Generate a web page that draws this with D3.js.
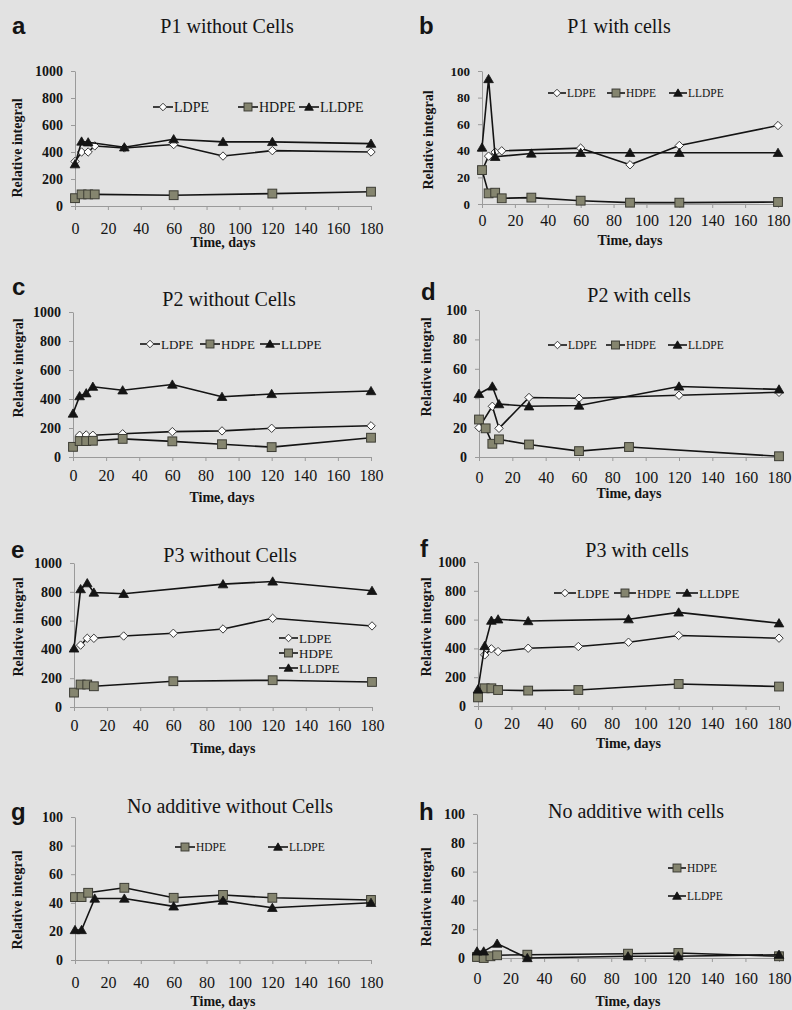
<!DOCTYPE html>
<html>
<head>
<meta charset="utf-8">
<script src="https://cdn.jsdelivr.net/npm/d3@7"></script>
<style>
  html, body { margin: 0; padding: 0; background: #e2e2e2; }
  svg { display: block; }
  svg text { font-family: "Liberation Serif", "Times New Roman", serif; }
  svg text.letter { font-family: "Liberation Sans", Arial, sans-serif; }
</style>
</head>
<body>
<svg id="fig" width="792" height="1010"></svg>
<script>
// ---- data -------------------------------------------------------------
// sampling days (x values) shared by every panel; null = not measured
const days = [0, 4, 8, 12, 30, 60, 90, 120, 180];
const xTickValues = [0, 20, 40, 60, 80, 100, 120, 140, 160, 180];
const yTicks1000 = [0, 200, 400, 600, 800, 1000];
const yTicks100 = [0, 20, 40, 60, 80, 100];

const panelLetters = ["a", "b", "c", "d", "e", "f", "g", "h"];
const panelTitles = [
  "P1 without Cells", "P1 with cells",
  "P2 without Cells", "P2 with cells",
  "P3 without Cells", "P3 with cells",
  "No additive without Cells", "No additive with cells"
];
const panelYMax = [1000, 100, 1000, 100, 1000, 1000, 100, 100];

// P1 without cells
const p1NoCellsLDPE  = [330, 400, 400, 445, 430, 455, 370, 410, 400];
const p1NoCellsHDPE  = [58, 86, 86, 86, null, 80, null, 92, 106];
const p1NoCellsLLDPE = [310, 478, 472, null, 435, 495, 475, 475, 462];
// P1 with cells
const p1CellsLDPE  = [25, 36, 39, 40, null, 42, 29.5, 44, 59];
const p1CellsHDPE  = [25.5, 8, 8.5, 4.3, 4.8, 2.5, 1, 1, 1.5];
const p1CellsLLDPE = [42.5, 94, 35.5, null, 38, 38.5, 38.5, 38.5, 38.5];
// P2 without cells
const p2NoCellsLDPE  = [null, 150, 152, 150, 160, 175, 180, 198, 215];
const p2NoCellsHDPE  = [70, 110, 110, 112, 125, 108, 88, 68, 133];
const p2NoCellsLLDPE = [300, 420, 440, 485, 460, 500, 415, 435, 455];
// P2 with cells
const p2CellsLDPE  = [20, null, 34.5, 19.5, 40.5, 40, null, 42, 44];
const p2CellsHDPE  = [25.5, 19.5, 9, 12, 8.5, 4, 6.8, null, 0.5];
const p2CellsLLDPE = [43, null, 48, 36, 34.5, 35, null, 48, 46];
// P3 without cells
const p3NoCellsLDPE  = [null, 430, 477, 477, 493, 512, 542, 616, 563];
const p3NoCellsHDPE  = [100, 156, 156, 144, null, 179, null, 186, 174];
const p3NoCellsLLDPE = [407, 819, 860, 795, 786, null, 853, 872, 807];
// P3 with cells
const p3CellsLDPE  = [null, 355, 397, 378, 401, 413, 443, 490, 471];
const p3CellsHDPE  = [60, 123, 123, 111, 107, 111, null, 153, 135];
const p3CellsLLDPE = [116, 417, 593, 602, 590, null, 603, 650, 575];
// no additive without cells
const noAddNoCellsHDPE  = [44, 44, 47, null, 50.5, 43.5, 45.5, 43.5, 42];
const noAddNoCellsLLDPE = [21, 21, null, 43, 43, 37.5, 41.5, 36.5, 40];
// no additive with cells
const noAddCellsHDPE  = [0.7, 0, 1.2, 1.9, 2.3, null, 3, 3.5, 1.2];
const noAddCellsLLDPE = [4.6, 4.6, null, 10, 0, null, 1.2, 1.2, 2.3];

const panelSeries = [
  [["LDPE", p1NoCellsLDPE], ["HDPE", p1NoCellsHDPE], ["LLDPE", p1NoCellsLLDPE]],
  [["LDPE", p1CellsLDPE], ["HDPE", p1CellsHDPE], ["LLDPE", p1CellsLLDPE]],
  [["LDPE", p2NoCellsLDPE], ["HDPE", p2NoCellsHDPE], ["LLDPE", p2NoCellsLLDPE]],
  [["LDPE", p2CellsLDPE], ["HDPE", p2CellsHDPE], ["LLDPE", p2CellsLLDPE]],
  [["LDPE", p3NoCellsLDPE], ["HDPE", p3NoCellsHDPE], ["LLDPE", p3NoCellsLLDPE]],
  [["LDPE", p3CellsLDPE], ["HDPE", p3CellsHDPE], ["LLDPE", p3CellsLLDPE]],
  [["HDPE", noAddNoCellsHDPE], ["LLDPE", noAddNoCellsLLDPE]],
  [["HDPE", noAddCellsHDPE], ["LLDPE", noAddCellsLLDPE]]
];

// ---- layout (pixel geometry of each panel) -----------------------------
const layout = [
  { x0: 75, x1: 371, yb: 206, yt: 71, letter: [12, 34], title: [227, 33], yTitle: [17, 148], xLab: 22, timeY: 242, yFs: 14,
    legend: { mode: "row", starts: [153, 238, 299], y: 107, len: 20, fs: 14 } },
  { x0: 482, x1: 778, yb: 204, yt: 71, letter: [419, 34], title: [619, 33], yTitle: [428, 140], xLab: 16, timeY: 240, yFs: 13,
    legend: { mode: "row", starts: [548, 607, 669], y: 93, len: 18, fs: 11.5 } },
  { x0: 73, x1: 371, yb: 457, yt: 312, letter: [12, 295], title: [229, 306], yTitle: [18, 368], xLab: 18, timeY: 497, yFs: 14,
    legend: { mode: "row", starts: [140, 200, 260], y: 344, len: 20, fs: 13 } },
  { x0: 479, x1: 779, yb: 457, yt: 310, letter: [421, 300], title: [639, 302], yTitle: [426, 367], xLab: 20, timeY: 493, yFs: 14,
    legend: { mode: "row", starts: [548, 606, 668], y: 345, len: 19, fs: 11.5 } },
  { x0: 74, x1: 372, yb: 707, yt: 563, letter: [11, 558], title: [230, 562], yTitle: [18, 627], xLab: 18, timeY: 748, yFs: 14,
    legend: { mode: "col", x: 279, ys: [638, 653, 668], len: 19, fs: 13 } },
  { x0: 478, x1: 779, yb: 706, yt: 562, letter: [420, 557], title: [637, 557], yTitle: [426, 627], xLab: 17, timeY: 743, yFs: 14,
    legend: { mode: "row", starts: [554, 614, 676], y: 593, len: 22, fs: 13 } },
  { x0: 75, x1: 371, yb: 960, yt: 817, letter: [11, 820], title: [230, 813], yTitle: [17, 900], xLab: 22, timeY: 1001, yFs: 14,
    legend: { mode: "row", starts: [175, 268], y: 847, len: 20, fs: 11.5 } },
  { x0: 477, x1: 779, yb: 958, yt: 814, letter: [419, 820], title: [636, 818], yTitle: [426, 897], xLab: 20, timeY: 1001, yFs: 14,
    legend: { mode: "col", x: 668, ys: [868, 896], len: 18, fs: 11.5 } }
];

// ---- drawing ------------------------------------------------------------
const serif = "Liberation Serif, Times New Roman, serif";
const sans = "Liberation Sans, Arial, sans-serif";
const ink = "#141414";
const axisGrey = "#9a9a9a";

const svg = d3.select("#fig");

// marker shapes per series
function drawMarker(sel, name, scale) {
  const s = scale || 1;
  if (name === "LDPE") {
    const r = 4.2 * s;
    sel.append("path")
      .attr("d", `M0,${-r}L${r},0L0,${r}L${-r},0Z`)
      .attr("fill", "#ffffff").attr("stroke", "#3a3a3a").attr("stroke-width", 1);
  } else if (name === "HDPE") {
    const h = 4.4 * s;
    sel.append("rect")
      .attr("x", -h).attr("y", -h).attr("width", 2 * h).attr("height", 2 * h)
      .attr("fill", "#85856f").attr("stroke", "#3c3c34").attr("stroke-width", 1);
  } else {
    const r = 4.6 * s;
    sel.append("path")
      .attr("d", `M0,${-r}L${r * 1.05},${r * 0.8}L${-r * 1.05},${r * 0.8}Z`)
      .attr("fill", ink).attr("stroke", ink).attr("stroke-width", 0.8);
  }
}

layout.forEach((L, i) => {
  const yMax = panelYMax[i];
  const yTicks = yMax === 1000 ? yTicks1000 : yTicks100;
  const x = d3.scaleLinear().domain([0, 180]).range([L.x0, L.x1]);
  const y = d3.scaleLinear().domain([0, yMax]).range([L.yb, L.yt]);
  const g = svg.append("g").attr("class", "panel panel-" + panelLetters[i]);

  // panel letter
  g.append("text").attr("class", "letter")
    .attr("x", L.letter[0]).attr("y", L.letter[1])
    .style("font-family", sans).style("font-weight", "bold").style("font-size", "24px")
    .attr("fill", ink).text(panelLetters[i]);

  // title
  g.append("text")
    .attr("x", L.title[0]).attr("y", L.title[1]).attr("text-anchor", "middle")
    .style("font-family", serif).style("font-size", "20px")
    .attr("fill", ink).text(panelTitles[i]);

  // y axis
  const yAxis = g.append("g")
    .attr("transform", `translate(${L.x0},0)`)
    .call(d3.axisLeft(y).tickValues(yTicks).tickFormat(d3.format("d"))
      .tickSize(4).tickSizeOuter(0).tickPadding(8));
  yAxis.attr("font-family", null);
  yAxis.select(".domain").attr("stroke", axisGrey);
  yAxis.selectAll(".tick line").attr("stroke", axisGrey);
  yAxis.selectAll(".tick text")
    .style("font-family", serif).style("font-weight", "bold").style("font-size", L.yFs + "px")
    .attr("fill", ink);

  // x axis
  const xAxis = g.append("g")
    .attr("transform", `translate(0,${L.yb})`)
    .call(d3.axisBottom(x).tickValues(xTickValues).tickFormat(d3.format("d"))
      .tickSize(4).tickSizeOuter(0));
  xAxis.attr("font-family", null);
  xAxis.select(".domain").attr("stroke", axisGrey);
  xAxis.selectAll(".tick line").attr("stroke", axisGrey);
  xAxis.selectAll(".tick text")
    .attr("y", L.xLab).attr("dy", "0.35em")
    .style("font-family", serif).style("font-size", "16px")
    .attr("fill", ink);

  // axis titles
  g.append("text")
    .attr("transform", `translate(${L.yTitle[0]},${L.yTitle[1]}) rotate(-90)`)
    .attr("text-anchor", "middle").attr("dy", "0.35em")
    .style("font-family", serif).style("font-weight", "bold").style("font-size", "14px")
    .attr("fill", ink).text("Relative integral");
  g.append("text")
    .attr("x", (L.x0 + L.x1) / 2).attr("y", L.timeY).attr("dy", "0.35em")
    .attr("text-anchor", "middle")
    .style("font-family", serif).style("font-weight", "bold").style("font-size", "14px")
    .attr("fill", ink).text("Time, days");

  // series
  const line = d3.line().x(d => x(d[0])).y(d => y(d[1]));
  panelSeries[i].forEach(([name, values]) => {
    const pts = days.map((d, k) => [d, values[k]]).filter(p => p[1] != null);
    const sg = g.append("g").attr("class", "series " + name);
    sg.append("path").datum(pts)
      .attr("d", line).attr("fill", "none")
      .attr("stroke", ink).attr("stroke-width", 1.6).attr("stroke-linejoin", "round");
    sg.selectAll("g.mk").data(pts).join("g")
      .attr("class", "mk")
      .attr("transform", d => `translate(${x(d[0])},${y(d[1])})`)
      .each(function () { drawMarker(d3.select(this), name); });
  });

  // legend
  const Lg = L.legend;
  panelSeries[i].forEach(([name], k) => {
    const lx = Lg.mode === "row" ? Lg.starts[k] : Lg.x;
    const ly = Lg.mode === "row" ? Lg.y : Lg.ys[k];
    const item = g.append("g").attr("class", "legend-item");
    item.append("line")
      .attr("x1", lx).attr("x2", lx + Lg.len).attr("y1", ly).attr("y2", ly)
      .attr("stroke", ink).attr("stroke-width", 1.6);
    const m = item.append("g").attr("transform", `translate(${lx + Lg.len / 2},${ly})`);
    drawMarker(m, name, 0.9);
    item.append("text")
      .attr("x", lx + Lg.len + 1).attr("y", ly).attr("dy", "0.35em")
      .style("font-family", serif).style("font-size", Lg.fs + "px")
      .attr("fill", ink).text(name);
  });
});
</script>
</body>
</html>
